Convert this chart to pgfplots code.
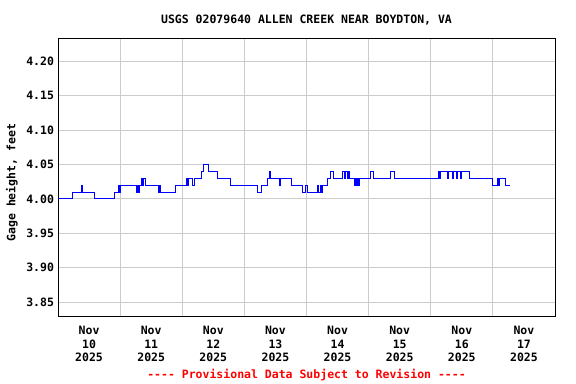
\documentclass[border=0pt]{standalone}
\usepackage{fontspec}
\setmainfont{DejaVu Sans Mono}
\usepackage{pgfplots}
\pgfplotsset{compat=1.18}
\definecolor{gridgray}{HTML}{CCCCCC}
\def\dashes{-\kern0pt-\kern0pt-\kern0pt-}
\begin{document}
\fontsize{11.5bp}{13.6bp}\selectfont\bfseries
\begin{tikzpicture}
\useasboundingbox (-58bp,-68bp) rectangle (518bp,316bp);
\begin{axis}[
  at={(0,0)}, anchor=south west,
  scale only axis, width=497bp, height=277bp,
  xmin=0, xmax=192, ymin=3.83, ymax=4.232,
  xtick={12,36,60,84,108,132,156,180},
  xticklabels={{Nov\\10\\2025},{Nov\\11\\2025},{Nov\\12\\2025},{Nov\\13\\2025},{Nov\\14\\2025},{Nov\\15\\2025},{Nov\\16\\2025},{Nov\\17\\2025}},
  xticklabel style={align=center, yshift=-6bp, font=\fontsize{11.5bp}{13.6bp}\selectfont\bfseries},
  minor xtick={24,48,72,96,120,144,168},
  xminorgrids, ymajorgrids,
  ytick={3.85,3.90,3.95,4.00,4.05,4.10,4.15,4.20},
  yticklabel style={/pgf/number format/fixed, /pgf/number format/precision=2, /pgf/number format/fixed zerofill, font=\fontsize{11.5bp}{13.6bp}\selectfont\bfseries},
  /pgf/number format/assume math mode=true,
  grid style={draw=gridgray, line width=0.8bp},
  major tick length=0pt, minor tick length=0pt,
  tick style={draw=none},
  axis line style={black, line width=1bp},
  ylabel={Gage height, feet},
  ylabel style={at={(axis description cs:-0.0926,0.481)}, anchor=center, font=\fontsize{11.5bp}{13.6bp}\selectfont\bfseries},
  title={USGS 02079640 ALLEN CREEK NEAR BOYDTON, VA},
  title style={at={(axis description cs:0.5,1)}, anchor=center, yshift=13bp, font=\fontsize{11.5bp}{13.6bp}\selectfont\bfseries},
  clip=false,
]
\addplot[const plot, color=blue, line width=0.9bp] coordinates {
(0,4.00) (5.4,4.01) (8.9,4.02) (9.3,4.01) (13.9,4.00) (21.7,4.01) (23.2,4.02) (23.6,4.01)
(24.0,4.02) (30.2,4.01) (30.6,4.02) (31.0,4.01) (31.4,4.02) (32.1,4.03) (32.5,4.02) (32.9,4.03)
(33.7,4.02) (38.7,4.01) (39.1,4.02) (39.5,4.01) (45.3,4.02) (49.5,4.03) (49.9,4.02) (50.3,4.03)
(51.9,4.02) (52.6,4.03) (55.4,4.04) (56.1,4.05) (58.1,4.04) (61.5,4.03) (66.6,4.02) (77.0,4.01)
(78.6,4.02) (80.9,4.03) (81.7,4.04) (82.1,4.03) (85.5,4.02) (85.9,4.03) (90.2,4.02) (94.5,4.01)
(95.6,4.02) (96.4,4.01) (100.3,4.02) (100.7,4.01) (101.4,4.02) (101.8,4.01) (102.2,4.02)
(104.1,4.03) (105.3,4.04) (106.5,4.03) (109.9,4.04) (110.5,4.03) (110.9,4.04) (111.7,4.03)
(112.1,4.04) (112.6,4.03) (114.6,4.02) (115.0,4.03) (115.4,4.02) (115.7,4.03) (116.1,4.02)
(116.5,4.03) (120.8,4.04) (121.9,4.03) (128.5,4.04) (130.1,4.03) (147.1,4.04) (147.5,4.03)
(147.9,4.04) (150.5,4.03) (151.0,4.04) (152.3,4.03) (152.7,4.04) (154.0,4.03) (154.4,4.04)
(155.6,4.03) (156.0,4.04) (159.1,4.03) (168.0,4.02) (169.9,4.03) (170.3,4.02) (170.7,4.03)
(173.0,4.02) (174.6,4.02)
};
\node[text=red, font=\fontsize{11.5bp}{13.6bp}\selectfont\bfseries] at (rel axis cs:0.5,0) [yshift=-59bp] {\dashes{} Provisional Data Subject to Revision \dashes};
\end{axis}
\end{tikzpicture}
\end{document}
